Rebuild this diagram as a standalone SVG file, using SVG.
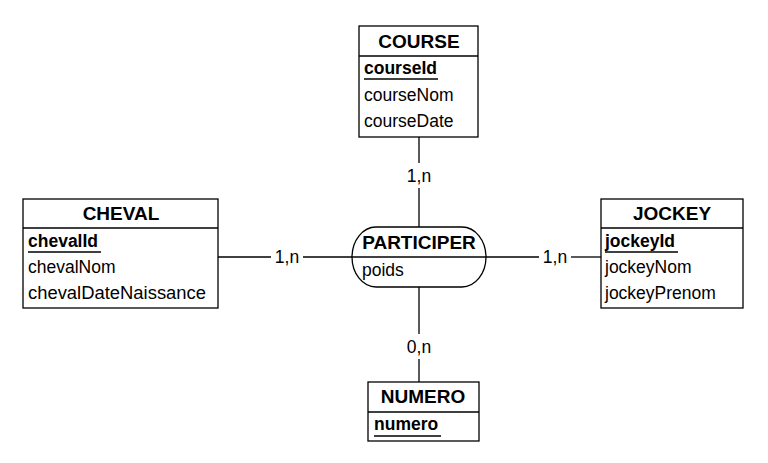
<svg xmlns="http://www.w3.org/2000/svg" width="768" height="463" viewBox="0 0 768 463">
<style>
.b { fill: #fff; stroke: #000; stroke-width: 1.3; }
line { stroke: #000; stroke-width: 1.3; }
text { font-family: "Liberation Sans", Arial, sans-serif; font-size: 17.5px; fill: #000; }
.t { font-weight: bold; font-size: 19px; text-anchor: middle; }
.k { font-weight: bold; }
.c { text-anchor: middle; }
</style>
<rect width="768" height="463" fill="#fff"/>
<g id="connectors">
<line x1="419" y1="137" x2="419" y2="163"/>
<line x1="419" y1="188" x2="419" y2="227"/>
<line x1="419" y1="287" x2="419" y2="334"/>
<line x1="419" y1="359" x2="419" y2="382"/>
<line x1="218" y1="257" x2="271" y2="257"/>
<line x1="303" y1="257" x2="352" y2="257"/>
<line x1="486" y1="257" x2="539" y2="257"/>
<line x1="571" y1="257" x2="601" y2="257"/>
<text class="c" x="419" y="182">1,n</text>
<text class="c" x="419" y="353">0,n</text>
<text class="c" x="287" y="263">1,n</text>
<text class="c" x="555" y="263">1,n</text>
</g>
<g id="course">
<rect class="b" x="359" y="26" width="119" height="111"/>
<line x1="359" y1="56" x2="478" y2="56"/>
<text class="t" x="419" y="48">COURSE</text>
<text class="k" x="364" y="74">courseId</text>
<line x1="364" y1="79" x2="438" y2="79"/>
<text x="364" y="101">courseNom</text>
<text x="364" y="127">courseDate</text>
</g>
<g id="cheval">
<rect class="b" x="23" y="199" width="195" height="109"/>
<line x1="23" y1="228" x2="218" y2="228"/>
<text class="t" x="121" y="220">CHEVAL</text>
<text class="k" x="28" y="247">chevalId</text>
<line x1="28" y1="252" x2="101" y2="252"/>
<text x="28" y="273">chevalNom</text>
<text x="28" y="299" textLength="178" lengthAdjust="spacingAndGlyphs">chevalDateNaissance</text>
</g>
<g id="participer">
<rect class="b" x="352" y="227" width="134" height="60" rx="24" ry="30"/>
<line x1="352" y1="257" x2="486" y2="257"/>
<text class="t" x="419" y="249">PARTICIPER</text>
<text x="362" y="276">poids</text>
</g>
<g id="jockey">
<rect class="b" x="601" y="199" width="142" height="109"/>
<line x1="601" y1="228" x2="743" y2="228"/>
<text class="t" x="672" y="220">JOCKEY</text>
<text class="k" x="605" y="247">jockeyId</text>
<line x1="605" y1="252" x2="678" y2="252"/>
<text x="605" y="273">jockeyNom</text>
<text x="605" y="299">jockeyPrenom</text>
</g>
<g id="numero">
<rect class="b" x="368" y="382" width="111" height="59"/>
<line x1="368" y1="412" x2="479" y2="412"/>
<text class="t" x="423" y="403">NUMERO</text>
<text class="k" x="374" y="430">numero</text>
<line x1="374" y1="436" x2="441" y2="436"/>
</g>
</svg>
